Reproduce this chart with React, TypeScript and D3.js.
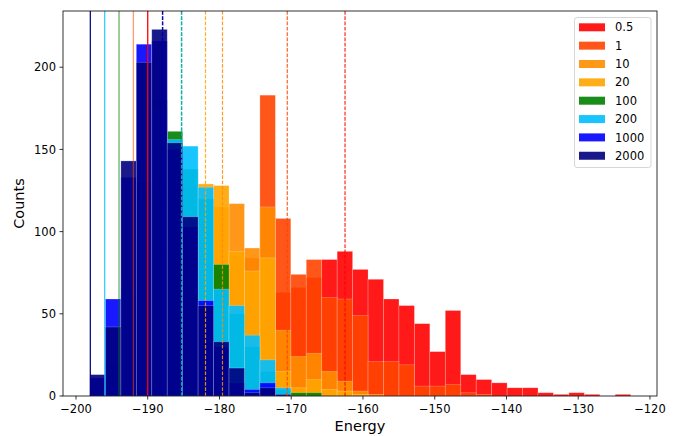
import React from 'react';
import * as d3 from 'd3';

const W = 678;
const H = 436;

const seriesLabels = ['0.5', '1', '10', '20', '100', '200', '1000', '2000'];
const seriesColors = ['red', 'orangered', 'darkorange', 'orange', 'green', 'deepskyblue', 'blue', 'navy'];

const binStart = -198.05;
const binWidth = 2.1532;

// counts per bin (35 bins), one array per series
const counts05 = [0, 0, 0, 0, 0, 0, 5, 10, 25, 40, 55, 60, 63, 66, 72, 83, 88, 77, 71, 59, 55, 44, 27, 52, 13, 10, 8, 5, 5, 2, 1, 2, 1, 0, 1];
const counts1 = [0, 0, 0, 0, 5, 10, 20, 38, 60, 85, 84, 183, 108, 74, 83, 60, 59, 49, 21, 21, 19, 6, 6, 7, 2, 1, 0, 0, 0, 0, 0, 0, 0, 0, 0];
const counts10 = [0, 0, 10, 25, 60, 100, 128, 120, 115, 117, 90, 115, 40, 24, 26, 15, 9, 3, 1, 0, 0, 0, 0, 0, 0, 0, 0, 0, 0, 0, 0, 0, 0, 0, 0];
const counts20 = [0, 7, 25, 60, 121, 130, 114, 129, 128, 88, 76, 84, 15, 5, 10, 4, 3, 1, 0, 0, 0, 0, 0, 0, 0, 0, 0, 0, 0, 0, 0, 0, 0, 0, 0];
const counts100 = [0, 5, 60, 130, 180, 161, 138, 120, 80, 50, 30, 15, 4, 2, 2, 0, 0, 0, 0, 0, 0, 0, 0, 0, 0, 0, 0, 0, 0, 0, 0, 0, 0, 0, 0];
const counts200 = [0, 20, 66, 120, 175, 156, 152, 127, 65, 55, 37, 22, 5, 0, 0, 0, 0, 0, 0, 0, 0, 0, 0, 0, 0, 0, 0, 0, 0, 0, 0, 0, 0, 0, 0];
const counts1000 = [11, 59, 133, 214, 216, 150, 103, 58, 30, 8, 4, 8, 0, 0, 0, 0, 0, 0, 0, 0, 0, 0, 0, 0, 0, 0, 0, 0, 0, 0, 0, 0, 0, 0, 0];
const counts2000 = [13, 42, 143, 203, 223, 154, 109, 55, 33, 17, 2, 5, 1, 0, 0, 0, 0, 0, 0, 0, 0, 0, 0, 0, 0, 0, 0, 0, 0, 0, 0, 0, 0, 0, 0];

const allCounts = [counts05, counts1, counts10, counts20, counts100, counts200, counts1000, counts2000];

// solid lines (minimum) and dashed lines (mean)
const minValues = [-190, -192, -194, -196, -198];
const minColors = ['red', 'orangered', 'green', 'deepskyblue', 'navy'];
const minOpacity = [1, 0.55, 0.6, 0.8, 0.95];

const meanValues = [-162.5, -170.55, -179.58, -181.95, -185.3, -185.25, -187.9, -187.95];

const xTicks = [-200, -190, -180, -170, -160, -150, -140, -130, -120];
const yTicks = [0, 50, 100, 150, 200];

const L = 63, R = 657, T = 11, B = 396;

export default function App() {
  const x = d3.scaleLinear().domain([-201.81, -119.02]).range([L, R]);
  const y = d3.scaleLinear().domain([0, 234.2]).range([B, T]);
  const font = 'DejaVu Sans, sans-serif';
  const fmt = (v: number) => (v < 0 ? '\u2212' + Math.abs(v) : String(v));

  return (
    <svg width={W} height={H} style={{ position: 'absolute', left: 0, top: 0 }} fontFamily={font}>
      <rect x={0} y={0} width={W} height={H} fill="white" />
      {allCounts.map((arr, s) => (
        <g key={s}>
          {arr.map((c, i) => {
            if (c <= 0) return null;
            const x0 = x(binStart + i * binWidth);
            const x1 = x(binStart + (i + 1) * binWidth);
            return (
              <rect
                key={i}
                x={x0}
                y={y(c)}
                width={x1 - x0}
                height={y(0) - y(c)}
                fill={seriesColors[s]}
                fillOpacity={0.9}
                stroke="rgba(255,255,255,0.3)"
                strokeWidth={0.7}
              />
            );
          })}
        </g>
      ))}
      {minValues.map((v, i) => (
        <line key={'min' + i} x1={x(v)} x2={x(v)} y1={T} y2={B} stroke={minColors[i]} strokeOpacity={minOpacity[i]} strokeWidth={1.3} />
      ))}
      {meanValues.map((v, i) => (
        <line key={'mean' + i} x1={x(v)} x2={x(v)} y1={T} y2={B} stroke={seriesColors[i]} strokeOpacity={0.85} strokeWidth={1.2} strokeDasharray="3.7,1.6" />
      ))}
      <rect x={L} y={T} width={R - L} height={B - T} fill="none" stroke="black" strokeWidth={0.8} />
      {xTicks.map((t) => (
        <g key={'xt' + t}>
          <line x1={x(t)} x2={x(t)} y1={B} y2={B + 3.5} stroke="black" strokeWidth={0.8} />
          <text x={x(t)} y={B + 16.5} fontSize={11.5} textAnchor="middle" fill="black">{fmt(t)}</text>
        </g>
      ))}
      {yTicks.map((t) => (
        <g key={'yt' + t}>
          <line x1={L - 3.5} x2={L} y1={y(t)} y2={y(t)} stroke="black" strokeWidth={0.8} />
          <text x={L - 7} y={y(t)} dy="0.36em" fontSize={11.5} textAnchor="end" fill="black">{fmt(t)}</text>
        </g>
      ))}
      <text x={(L + R) / 2} y={431} fontSize={14.5} textAnchor="middle" fill="black">Energy</text>
      <text transform={`translate(24, ${(T + B) / 2}) rotate(-90)`} fontSize={14.5} textAnchor="middle" fill="black">Counts</text>
      <g>
        <rect x={574.5} y={17.5} width={76.5} height={150} rx={2.5} fill="white" fillOpacity={0.8} stroke="#cccccc" strokeWidth={0.8} />
        {seriesLabels.map((lab, i) => {
          const cy = 27.3 + i * 18.35;
          return (
            <g key={lab}>
              <rect x={579} y={cy - 4} width={26} height={8} fill={seriesColors[i]} fillOpacity={0.9} />
              <text x={615} y={cy} dy="0.36em" fontSize={11.5} fill="black">{lab}</text>
            </g>
          );
        })}
      </g>
    </svg>
  );
}
